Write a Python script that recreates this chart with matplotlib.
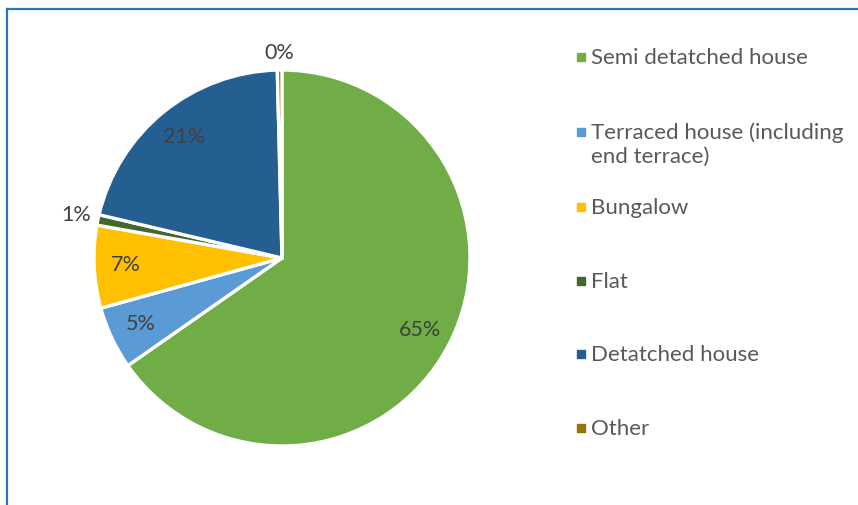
import matplotlib
matplotlib.use("Agg")
import matplotlib.pyplot as plt
from matplotlib.lines import Line2D
from matplotlib.patches import Rectangle

# Dwelling type shares (percent)
categories = ["Semi detatched house", "Terraced house (including\nend terrace)",
              "Bungalow", "Flat", "Detatched house", "Other"]
shares = [65.3, 5.4, 7.1, 0.9, 20.9, 0.4]
colors = ["#70AD47", "#5B9BD5", "#FFC000", "#43682B", "#255E91", "#997300"]

plt.rcParams["font.family"] = ["Lato", "DejaVu Sans"]

W, H = 858, 505
fig = plt.figure(figsize=(W / 100, H / 100), dpi=100)

# Pie placement (pixel based)
cx, cy, r = 282, 258, 188
ax = fig.add_axes([(cx - r) / W, (H - cy - r) / H, 2 * r / W, 2 * r / H])

wedges, texts, autotexts = ax.pie(
    shares, colors=colors, startangle=90, counterclock=False,
    autopct="%.0f%%", pctdistance=0.83,
    wedgeprops=dict(edgecolor="white", linewidth=2.4),
    textprops=dict(color="#404040", fontsize=15.5),
)
# small slices get their labels outside the pie
outside = {3: 1.12, 5: 1.09}
for i, dist in outside.items():
    x, y = autotexts[i].get_position()
    autotexts[i].set_position((x * dist / 0.83, y * dist / 0.83))
ax.set_xlim(-1, 1)
ax.set_ylim(-1, 1)
ax.axis("off")

# Legend drawn as squares with text
legend_font = 16
leg_rows = [58, 133, 208, 282, 355, 429]
for lab, col, yy in zip(categories, colors, leg_rows):
    fig.patches.append(Rectangle((577 / W, 1 - (yy + 3) / H), 8 / W, 8 / H,
                                 transform=fig.transFigure, color=col))
    for k, line in enumerate(lab.split("\n")):
        fig.text(591 / W, 1 - (yy + 24 * k) / H, line, color="#595959",
                 fontsize=legend_font, va="center", ha="left")

# Chart-area border (top and left)
fig.add_artist(Line2D([6.5 / W, 1], [1 - 8.5 / H, 1 - 8.5 / H],
                      transform=fig.transFigure, color="#2E75B6", lw=1.6))
fig.add_artist(Line2D([6.5 / W, 6.5 / W], [1 - 8.5 / H, 0],
                      transform=fig.transFigure, color="#2E75B6", lw=1.6))

fig.savefig("out.png", dpi=100, facecolor="white")
